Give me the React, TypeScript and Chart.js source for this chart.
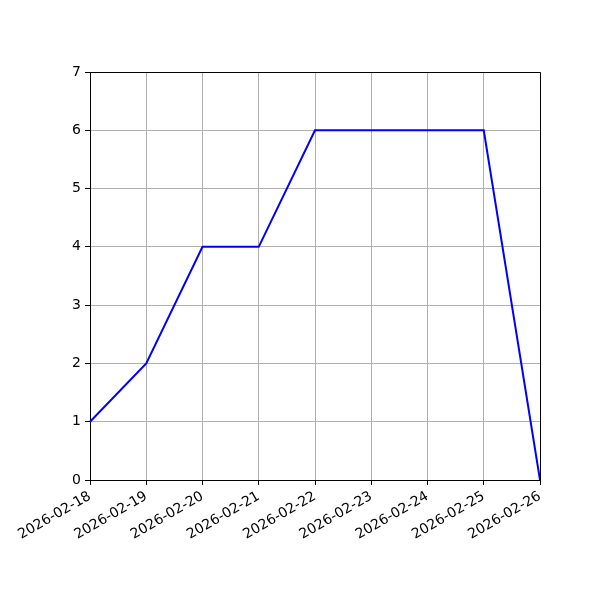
import React, { useEffect, useRef } from 'react';
import { Chart, registerables } from 'chart.js';

Chart.register(...registerables);

const dates = [
  '2026-02-18', '2026-02-19', '2026-02-20', '2026-02-21', '2026-02-22',
  '2026-02-23', '2026-02-24', '2026-02-25', '2026-02-26',
];
const counts = [1, 2, 4, 4, 6, 6, 6, 6, 0];

const FONT = { family: 'DejaVu Sans', size: 14 };

const App: React.FC = () => {
  const canvasRef = useRef<HTMLCanvasElement>(null);

  useEffect(() => {
    document.body.style.margin = '0';
    if (!canvasRef.current) return;
    const ctx = canvasRef.current.getContext('2d');
    if (!ctx) return;

    const chart = new Chart(ctx, {
      type: 'line',
      data: {
        labels: dates,
        datasets: [{
          data: counts,
          borderColor: '#0000ff',
          borderWidth: 2,
          pointRadius: 0,
          tension: 0,
          fill: false,
        }],
      },
      options: {
        responsive: false,
        animation: false,
        events: [],
        layout: { padding: { top: 72, right: 60, left: 0, bottom: 0 } },
        scales: {
          x: {
            type: 'category',
            offset: false,
            afterFit: (axis: any) => { axis.height = 120; },
            grid: { color: '#b0b0b0', lineWidth: 1, tickColor: '#000', tickLength: 5 },
            border: { color: '#000', width: 1 },
            ticks: {
              color: '#000',
              font: FONT,
              minRotation: 30,
              maxRotation: 30,
              autoSkip: false,
              padding: 3,
            },
          },
          y: {
            min: 0,
            max: 7,
            afterFit: (axis: any) => { axis.width = 90; },
            grid: { color: '#b0b0b0', lineWidth: 1, tickColor: '#000', tickLength: 5 },
            border: { color: '#000', width: 1 },
            ticks: { color: '#000', font: FONT, stepSize: 1, padding: 4 },
          },
        },
        plugins: {
          legend: { display: false },
          tooltip: { enabled: false },
          title: { display: false },
        },
      },
      plugins: [{
        id: 'frame',
        afterDatasetsDraw: (c: any) => {
          const { left, right, top, bottom } = c.chartArea;
          const g = c.ctx;
          g.save();
          g.strokeStyle = '#000';
          g.lineWidth = 1;
          g.beginPath();
          g.moveTo(left, top + 0.5);
          g.lineTo(right + 0.5, top + 0.5);
          g.lineTo(right + 0.5, bottom);
          g.stroke();
          g.restore();
        },
      }],
    });

    return () => chart.destroy();
  }, []);

  return (
    <div style={{ width: 600, height: 600, background: '#fff' }}>
      <canvas ref={canvasRef} width={600} height={600} />
    </div>
  );
};

export default App;
